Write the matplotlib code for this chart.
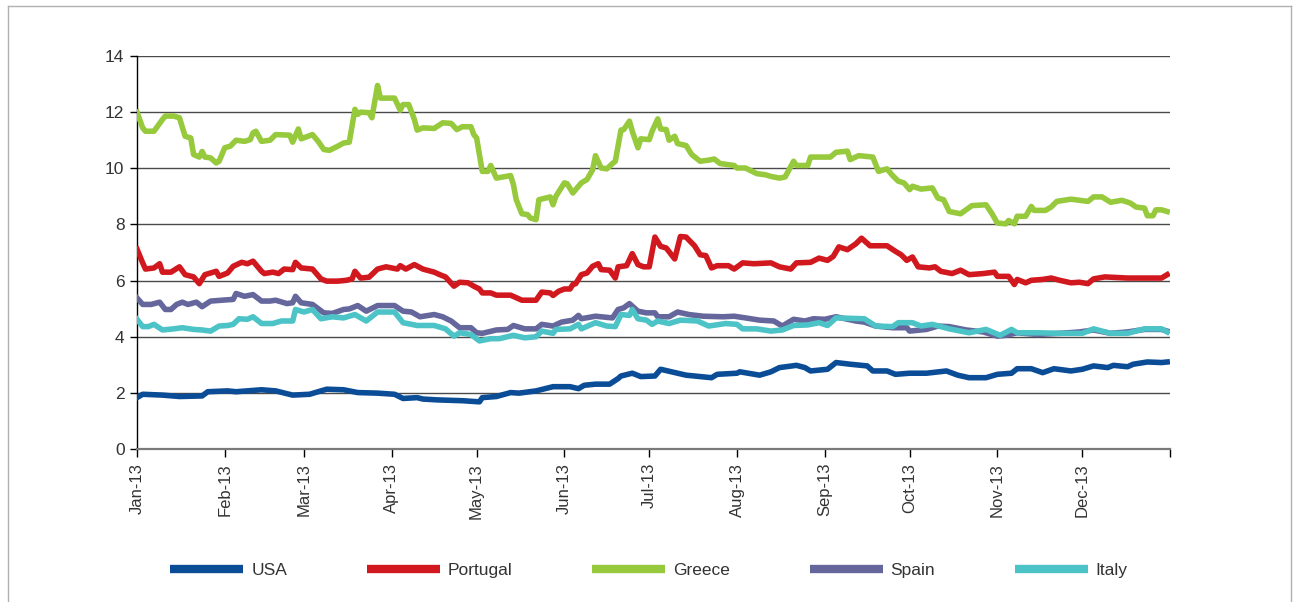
from datetime import date, timedelta
import matplotlib
matplotlib.use("Agg")
import matplotlib.pyplot as plt
from matplotlib.lines import Line2D

# day offsets from 1 Jan 2013 and yields (%)
usa_days = [0, 2, 9, 15, 23, 25, 32, 35, 44, 49, 55, 61, 67, 73, 78, 85, 91, 94, 99, 101,
            106, 115, 121, 122, 127, 132, 135, 141, 147, 153, 156, 158, 162, 167, 170, 171,
            175, 178, 183, 185, 191, 194, 203, 205, 212, 213, 220, 224, 227, 233, 236, 238,
            244, 247, 252, 258, 260, 265, 268, 273, 279, 286, 290, 294, 300, 304, 309, 311,
            316, 320, 324, 330, 334, 338, 343, 345, 350, 352, 357, 362, 364]
usa_vals = [1.83, 1.95, 1.92, 1.87, 1.89, 2.04, 2.07, 2.04, 2.11, 2.07, 1.92, 1.95, 2.13, 2.11,
            2.01, 1.99, 1.95, 1.80, 1.83, 1.78, 1.75, 1.72, 1.68, 1.83, 1.87, 2.01, 1.99, 2.07,
            2.22, 2.22, 2.15, 2.27, 2.31, 2.31, 2.51, 2.60, 2.70, 2.58, 2.60, 2.84, 2.70, 2.63,
            2.54, 2.66, 2.70, 2.75, 2.63, 2.75, 2.90, 2.98, 2.90, 2.78, 2.84, 3.08, 3.02, 2.96,
            2.78, 2.78, 2.66, 2.70, 2.70, 2.78, 2.63, 2.54, 2.54, 2.66, 2.70, 2.86, 2.86, 2.72,
            2.86, 2.78, 2.84, 2.96, 2.90, 2.98, 2.93, 3.02, 3.10, 3.08, 3.10]

portugal_days = [0, 2, 3, 6, 8, 9, 12, 15, 17, 20, 22, 24, 26, 28, 29, 32, 34, 37, 39, 41, 44,
                 45, 48, 50, 52, 55, 56, 58, 62, 65, 67, 71, 74, 76, 77, 79, 82, 85, 88, 92, 93,
                 95, 98, 101, 105, 107, 109, 112, 114, 117, 119, 121, 122, 125, 127, 132, 136,
                 141, 143, 146, 147, 149, 151, 153, 154, 155, 157, 159, 161, 163, 164, 167, 169,
                 170, 173, 175, 177, 179, 181, 183, 185, 187, 190, 192, 194, 197, 199, 201, 203,
                 205, 209, 211, 214, 218, 224, 227, 231, 233, 238, 241, 244, 246, 248, 251, 254,
                 256, 259, 265, 268, 270, 272, 274, 276, 280, 282, 284, 288, 291, 294, 299, 303,
                 304, 308, 310, 311, 314, 316, 320, 323, 326, 330, 333, 336, 338, 342, 350, 362,
                 364]
portugal_vals = [7.12, 6.63, 6.41, 6.45, 6.60, 6.30, 6.30, 6.49, 6.21, 6.13, 5.89, 6.21, 6.27,
                 6.33, 6.15, 6.27, 6.51, 6.65, 6.60, 6.69, 6.33, 6.25, 6.30, 6.25, 6.41, 6.39,
                 6.65, 6.45, 6.41, 6.06, 5.98, 5.98, 6.01, 6.06, 6.33, 6.09, 6.12, 6.41, 6.49,
                 6.41, 6.53, 6.41, 6.57, 6.41, 6.30, 6.21, 6.13, 5.80, 5.94, 5.92, 5.80, 5.70,
                 5.56, 5.56, 5.48, 5.48, 5.30, 5.30, 5.59, 5.56, 5.47, 5.62, 5.70, 5.70, 5.86,
                 5.89, 6.21, 6.27, 6.51, 6.60, 6.39, 6.37, 6.09, 6.49, 6.53, 6.96, 6.57, 6.49,
                 6.49, 7.55, 7.22, 7.16, 6.77, 7.57, 7.55, 7.24, 6.92, 6.89, 6.45, 6.53, 6.53,
                 6.41, 6.63, 6.60, 6.63, 6.49, 6.41, 6.63, 6.65, 6.80, 6.72, 6.86, 7.20, 7.10,
                 7.31, 7.51, 7.24, 7.24, 7.04, 6.92, 6.72, 6.84, 6.49, 6.45, 6.49, 6.33, 6.25,
                 6.37, 6.21, 6.25, 6.30, 6.15, 6.15, 5.86, 6.04, 5.92, 6.01, 6.04, 6.09, 6.01,
                 5.92, 5.94, 5.89, 6.06, 6.13, 6.09, 6.09, 6.21]

greece_days = [0, 2, 3, 6, 9, 10, 13, 15, 17, 19, 20, 22, 23, 24, 26, 28, 29, 31, 33, 35, 38,
               40, 41, 42, 44, 47, 49, 54, 55, 57, 58, 62, 64, 66, 68, 71, 73, 75, 77, 78, 79,
               82, 83, 85, 86, 91, 93, 94, 96, 98, 99, 101, 105, 108, 111, 113, 115, 118, 119,
               120, 122, 124, 125, 127, 132, 133, 134, 136, 138, 139, 141, 142, 146, 147, 148,
               151, 152, 154, 157, 159, 161, 162, 164, 166, 168, 169, 171, 172, 174, 175, 177,
               178, 181, 182, 184, 185, 187, 188, 190, 191, 194, 196, 199, 202, 204, 206, 211,
               212, 215, 219, 222, 224, 227, 229, 232, 233, 237, 238, 245, 247, 251, 252, 255,
               260, 262, 265, 267, 269, 271, 273, 274, 277, 281, 283, 285, 287, 291, 295, 300,
               302, 304, 307, 308, 310, 311, 314, 316, 317, 321, 323, 325, 330, 336, 338, 341,
               344, 348, 351, 353, 356, 357, 359, 360, 362, 364]
greece_vals = [12.00, 11.44, 11.32, 11.32, 11.74, 11.86, 11.86, 11.80, 11.14, 11.08, 10.49,
               10.40, 10.60, 10.40, 10.37, 10.19, 10.25, 10.73, 10.79, 11.00, 10.96, 11.02,
               11.26, 11.32, 10.96, 11.00, 11.20, 11.18, 10.93, 11.40, 11.05, 11.20, 10.96,
               10.67, 10.64, 10.79, 10.90, 10.93, 12.10, 11.92, 12.00, 11.98, 11.80, 12.95,
               12.50, 12.50, 12.07, 12.27, 12.27, 11.74, 11.36, 11.44, 11.42, 11.62, 11.60,
               11.38, 11.48, 11.48, 11.20, 11.08, 9.89, 9.89, 10.10, 9.65, 9.74, 9.42, 8.88,
               8.38, 8.35, 8.23, 8.17, 8.88, 8.98, 8.70, 9.00, 9.48, 9.45, 9.12, 9.48, 9.60,
               9.95, 10.45, 10.01, 9.98, 10.17, 10.25, 11.36, 11.38, 11.68, 11.32, 10.73, 11.05,
               11.02, 11.32, 11.76, 11.40, 11.38, 11.00, 11.14, 10.88, 10.81, 10.49, 10.25,
               10.29, 10.33, 10.17, 10.10, 10.01, 10.01, 9.81, 9.77, 9.71, 9.65, 9.69, 10.25,
               10.10, 10.10, 10.40, 10.40, 10.57, 10.61, 10.31, 10.45, 10.40, 9.89, 9.98, 9.74,
               9.54, 9.48, 9.24, 9.36, 9.26, 9.30, 8.94, 8.88, 8.46, 8.38, 8.67, 8.70, 8.40,
               8.05, 8.02, 8.14, 8.02, 8.29, 8.29, 8.64, 8.50, 8.50, 8.62, 8.82, 8.90, 8.82,
               8.98, 8.98, 8.79, 8.86, 8.76, 8.62, 8.58, 8.31, 8.31, 8.52, 8.52, 8.46]

spain_days = [0, 2, 5, 8, 10, 12, 14, 16, 18, 21, 23, 26, 30, 34, 35, 38, 41, 44, 47, 49, 53,
              55, 56, 58, 62, 66, 69, 73, 75, 78, 81, 85, 91, 94, 97, 100, 105, 108, 111, 114,
              118, 120, 122, 127, 131, 133, 137, 141, 143, 147, 150, 154, 156, 157, 162, 168,
              170, 172, 174, 177, 180, 183, 184, 188, 191, 195, 200, 207, 211, 215, 220, 225,
              228, 232, 236, 239, 243, 247, 254, 257, 261, 267, 272, 273, 279, 283, 287, 293,
              299, 304, 307, 311, 318, 326, 333, 338, 344, 350, 356, 362, 364]
spain_vals = [5.38, 5.15, 5.15, 5.23, 4.97, 4.97, 5.15, 5.23, 5.15, 5.23, 5.07, 5.27, 5.30,
              5.33, 5.54, 5.44, 5.50, 5.27, 5.27, 5.30, 5.18, 5.21, 5.44, 5.21, 5.15, 4.85,
              4.83, 4.97, 4.99, 5.11, 4.91, 5.11, 5.11, 4.91, 4.88, 4.71, 4.79, 4.71, 4.56,
              4.32, 4.32, 4.14, 4.12, 4.24, 4.26, 4.40, 4.28, 4.28, 4.44, 4.38, 4.52, 4.59,
              4.76, 4.64, 4.73, 4.67, 4.97, 5.03, 5.18, 4.91, 4.85, 4.85, 4.71, 4.71, 4.88,
              4.79, 4.73, 4.71, 4.73, 4.67, 4.59, 4.56, 4.38, 4.62, 4.56, 4.64, 4.62, 4.71,
              4.56, 4.52, 4.38, 4.32, 4.32, 4.20, 4.26, 4.38, 4.36, 4.24, 4.17, 4.02, 4.05,
              4.14, 4.08, 4.12, 4.17, 4.24, 4.12, 4.17, 4.26, 4.26, 4.20]

italy_days = [0, 2, 4, 6, 9, 13, 16, 20, 23, 26, 29, 32, 34, 36, 39, 41, 44, 48, 51, 55, 56,
              59, 62, 65, 69, 73, 77, 81, 85, 91, 94, 99, 105, 109, 112, 114, 118, 121, 125,
              128, 133, 137, 141, 143, 147, 148, 153, 156, 157, 162, 166, 169, 171, 174, 175,
              177, 180, 182, 184, 188, 192, 198, 202, 208, 212, 214, 219, 224, 228, 232, 237,
              241, 244, 247, 257, 261, 267, 269, 274, 277, 281, 287, 294, 300, 305, 309, 311,
              318, 327, 334, 338, 344, 350, 356, 362, 364]
italy_vals = [4.62, 4.36, 4.36, 4.44, 4.24, 4.28, 4.32, 4.26, 4.24, 4.20, 4.38, 4.40, 4.44,
              4.64, 4.62, 4.71, 4.47, 4.47, 4.56, 4.56, 4.97, 4.88, 4.97, 4.64, 4.71, 4.67,
              4.79, 4.56, 4.88, 4.88, 4.50, 4.40, 4.40, 4.28, 4.02, 4.14, 4.08, 3.85, 3.93,
              3.93, 4.05, 3.96, 4.00, 4.20, 4.12, 4.26, 4.28, 4.44, 4.28, 4.50, 4.38, 4.36,
              4.79, 4.76, 4.97, 4.64, 4.59, 4.44, 4.56, 4.47, 4.59, 4.56, 4.38, 4.47, 4.44,
              4.28, 4.28, 4.20, 4.24, 4.40, 4.42, 4.50, 4.40, 4.67, 4.64, 4.38, 4.36, 4.50,
              4.50, 4.38, 4.44, 4.28, 4.14, 4.26, 4.05, 4.26, 4.14, 4.14, 4.12, 4.12, 4.28,
              4.12, 4.12, 4.28, 4.28, 4.17]

series_names = ["USA", "Portugal", "Greece", "Spain", "Italy"]
series_colors = ["#0b4c97", "#d1181f", "#97c93c", "#65669c", "#4cc3c6"]

plt.rcParams['font.family'] = ['Liberation Sans', 'DejaVu Sans']
text_col = "#333333"

start = date(2013, 1, 1)
def to_dates(days):
    return [start + timedelta(days=d) for d in days]

fig = plt.figure(figsize=(12.93, 6.02), dpi=100)
ax = fig.add_axes([137 / 1293, 1 - 449 / 602, (1170 - 137) / 1293, (449 - 56) / 602])

all_days = [usa_days, portugal_days, greece_days, spain_days, italy_days]
all_vals = [usa_vals, portugal_vals, greece_vals, spain_vals, italy_vals]
for d, v, name, col in zip(all_days, all_vals, series_names, series_colors):
    ax.plot(to_dates(d), v, color=col, lw=4.0, label=name, solid_joinstyle='round',
            zorder=3)

ax.set_ylim(0, 14)
ax.set_yticks(range(0, 15, 2))
ax.set_xlim(date(2013, 1, 1), date(2014, 1, 1))
ax.set_xticks([date(2013, m, 1) for m in range(1, 13)] + [date(2014, 1, 1)])
labels = [date(2013, m, 1).strftime('%b-%y') for m in range(1, 13)] + [""]
ax.set_xticklabels(labels, rotation=90)

ax.yaxis.grid(True, color="#4a4a4a", lw=1.0, zorder=1)
ax.set_axisbelow(True)
for s in ["top", "right"]:
    ax.spines[s].set_visible(False)
ax.spines["left"].set_color("black")
ax.spines["left"].set_linewidth(1.0)
ax.spines["bottom"].set_color("#7a7a7a")
ax.spines["bottom"].set_linewidth(1.6)
ax.tick_params(axis='y', direction='out', length=5, width=1, colors="black",
               labelcolor=text_col, labelsize=12.5, pad=4)
ax.tick_params(axis='x', direction='out', length=6, width=1, colors="black",
               labelcolor=text_col, labelsize=12, pad=4)

handles = [Line2D([], [], color=c, lw=6, solid_capstyle='butt') for c in series_colors]
fig.legend(handles, series_names, loc='center', bbox_to_anchor=(0.502, 1 - 570 / 602),
           ncol=5, frameon=False, fontsize=12.5, handlelength=4.2, handletextpad=0.45,
           columnspacing=4.6, labelcolor=text_col)

# light frame around the figure
frame_col = "#b0b0b0"
fig.add_artist(Line2D([8 / 1293, 8 / 1293], [0, 1 - 6 / 602], color=frame_col, lw=1,
                      transform=fig.transFigure))
fig.add_artist(Line2D([8 / 1293, 1291 / 1293], [1 - 6 / 602, 1 - 6 / 602], color=frame_col,
                      lw=1, transform=fig.transFigure))
fig.add_artist(Line2D([1291 / 1293, 1291 / 1293], [0, 1 - 6 / 602], color=frame_col, lw=1,
                      transform=fig.transFigure))

fig.savefig("out.png", dpi=100)
